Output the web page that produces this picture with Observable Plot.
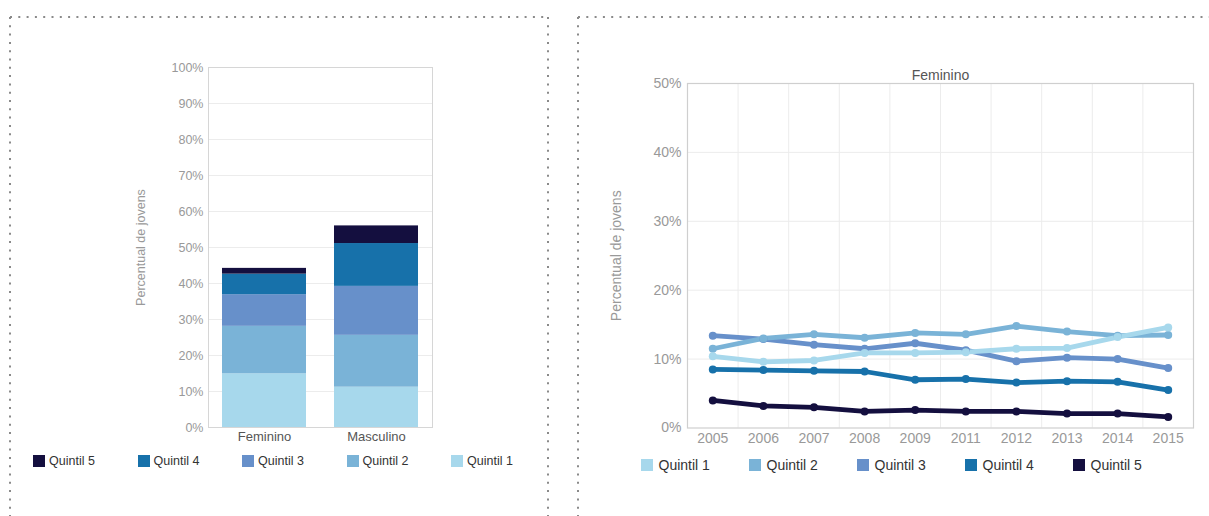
<!DOCTYPE html>
<html>
<head>
<meta charset="utf-8">
<script src="https://cdn.jsdelivr.net/npm/d3@7"></script>
<script src="https://cdn.jsdelivr.net/npm/@observablehq/plot@0.6"></script>
<style>
  html, body { margin: 0; padding: 0; background: #fff; }
  body { width: 1209px; height: 516px; position: relative; overflow: hidden; font-family: Arial, "Liberation Sans", sans-serif; }
  .abs { position: absolute; }
  .lgl-swatches, .lgr-swatches { min-height: 0 !important; height: 20px; margin: 0 !important; font-family: Arial, "Liberation Sans", sans-serif !important; color: #333; flex-wrap: nowrap !important; }
  .lgl-swatches { font-size: 12.5px !important; }
  .lgr-swatches { font-size: 14px !important; }
  .lgl-swatch { width: 104.5px; margin: 0 !important; flex: none; }
  .lgr-swatch { width: 108px; margin: 0 !important; flex: none; }
  .lgl-swatch > svg { margin-right: 4px !important; }
  .lgr-swatch > svg { margin-right: 5.5px !important; }
</style>
</head>
<body>
<svg class="abs" id="borders" width="1209" height="516" style="left:0;top:0"></svg>
<div class="abs" id="left" style="left:130px;top:50px"></div>
<div class="abs" id="leftLegend" style="left:33px;top:451px"></div>
<div class="abs" id="right" style="left:600px;top:60px"></div>
<div class="abs" id="rightLegend" style="left:641px;top:455px"></div>
<script>
// ---------- data ----------
const quintis = ["Quintil 1", "Quintil 2", "Quintil 3", "Quintil 4", "Quintil 5"];
const sexos = ["Feminino", "Masculino"];
// stacked bar values (percent), Quintil 1..5
const barFeminino = [14.9, 13.2, 8.8, 5.7, 1.6];
const barMasculino = [11.2, 14.4, 13.6, 11.9, 4.9];
const yTicksLeft = [0, 10, 20, 30, 40, 50, 60, 70, 80, 90, 100];

const panelTitle = "Feminino";
const years = ["2005", "2006", "2007", "2008", "2009", "2011", "2012", "2013", "2014", "2015"];
const quintil1 = [10.4, 9.6, 9.8, 10.9, 10.9, 11.0, 11.5, 11.6, 13.2, 14.6];
const quintil2 = [11.5, 13.0, 13.6, 13.1, 13.8, 13.6, 14.8, 14.0, 13.4, 13.5];
const quintil3 = [13.4, 12.9, 12.1, 11.5, 12.3, 11.3, 9.7, 10.2, 10.0, 8.7];
const quintil4 = [8.5, 8.4, 8.3, 8.2, 7.0, 7.1, 6.6, 6.8, 6.7, 5.5];
const quintil5 = [4.0, 3.2, 3.0, 2.4, 2.6, 2.4, 2.4, 2.1, 2.1, 1.6];
const yTicksRight = [0, 10, 20, 30, 40, 50];
const yLabel = "Percentual de jovens";

// ---------- styles ----------
const palette = ["#a7d8ec", "#7ab3d7", "#6790ca", "#1771aa", "#140f3f"];
const font = 'Arial, "Liberation Sans", sans-serif';

// ---------- tables ----------
const barRows = [];
[barFeminino, barMasculino].forEach((vals, s) =>
  vals.forEach((v, q) => barRows.push({sexo: sexos[s], quintil: quintis[q], value: v})));

const seriesList = [quintil1, quintil2, quintil3, quintil4, quintil5];
const lineRows = [];
for (let q = seriesList.length - 1; q >= 0; q--) {
  seriesList[q].forEach((v, i) => lineRows.push({i, year: years[i], quintil: quintis[q], value: v}));
}
const yearIdx = years.map((_, i) => i);
const yearBounds = years.slice(1).map((_, i) => i + 0.5);

// ---------- dotted panel borders (decoration) ----------
const b = d3.select("#borders");
const segs = [[10, 17, 548, 17], [10, 17, 10, 516], [548, 17, 548, 516], [578, 17, 1209, 17], [578, 17, 578, 516]];
b.selectAll("line").data(segs).join("line")
  .attr("x1", d => d[0]).attr("y1", d => d[1]).attr("x2", d => d[2]).attr("y2", d => d[3])
  .attr("stroke", "#8a8a8a").attr("stroke-width", 2).attr("stroke-dasharray", "2 6.3");

// ---------- left: stacked bars ----------
const left = Plot.plot({
  width: 320, height: 400,
  marginLeft: 78, marginRight: 18, marginTop: 17, marginBottom: 23,
  style: {fontFamily: font, fontSize: "12.5px", background: "transparent", color: "#999"},
  x: {domain: sexos, paddingInner: 0.25, paddingOuter: 0.12, label: null},
  y: {domain: [0, 100], label: null},
  color: {domain: quintis, range: palette},
  marks: [
    Plot.gridY(yTicksLeft, {stroke: "#ececec", strokeOpacity: 1}),
    Plot.barY(barRows, {x: "sexo", y: "value", fill: "quintil"}),
    Plot.frame({stroke: "#d6d6d6"}),
    Plot.axisY({ticks: yTicksLeft, tickSize: 0, tickPadding: 5, tickFormat: d => d + "%", fill: "#999",
      label: yLabel, labelAnchor: "center", labelOffset: 72, labelArrow: "none"}),
    Plot.axisX({tickSize: 0, tickPadding: 4, fill: "#555", fontSize: 13, label: null})
  ]
});
document.getElementById("left").appendChild(left);

const legL = Plot.legend({
  color: {domain: quintis.slice().reverse(), range: palette.slice().reverse()},
  swatchSize: 12, className: "lgl"
});
document.getElementById("leftLegend").appendChild(legL);

// ---------- right: lines ----------
const right = Plot.plot({
  width: 609, height: 400,
  marginLeft: 87, marginRight: 16, marginTop: 23, marginBottom: 32.5,
  style: {fontFamily: font, fontSize: "14px", background: "transparent", color: "#999"},
  x: {domain: [-0.5, 9.5], label: null},
  y: {domain: [0, 50], label: null},
  color: {domain: quintis, range: palette},
  marks: [
    Plot.gridY(yTicksRight.slice(1, -1), {stroke: "#ececec", strokeOpacity: 1}),
    Plot.gridX(yearBounds, {stroke: "#ececec", strokeOpacity: 1}),
    Plot.frame({stroke: "#cfcfcf", strokeWidth: 1.2}),
    Plot.line(lineRows, {x: "i", y: "value", z: "quintil", stroke: "quintil", strokeWidth: 4.8}),
    Plot.dot(lineRows, {x: "i", y: "value", fill: "quintil", r: 4}),
    Plot.axisY({ticks: yTicksRight, tickSize: 0, tickPadding: 6, tickFormat: d => d + "%", fill: "#999",
      label: yLabel, labelAnchor: "center", labelOffset: 76, labelArrow: "none"}),
    Plot.axisX({ticks: yearIdx, tickSize: 0, tickPadding: 5, tickFormat: i => years[i], fill: "#999", label: null}),
    Plot.text([panelTitle], {frameAnchor: "top", lineAnchor: "bottom", dy: -4, fill: "#555", fontSize: 14})
  ]
});
document.getElementById("right").appendChild(right);

const legR = Plot.legend({
  color: {domain: quintis, range: palette},
  swatchSize: 12, className: "lgr"
});
document.getElementById("rightLegend").appendChild(legR);
</script>
</body>
</html>
